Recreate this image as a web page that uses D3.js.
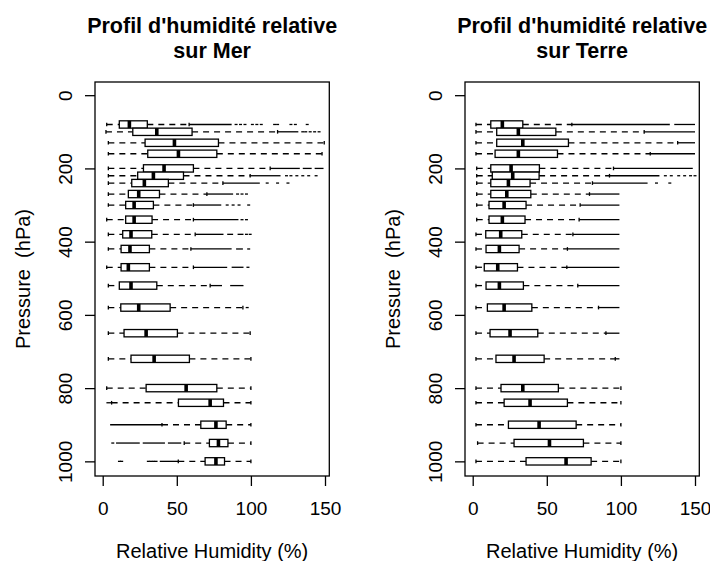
<!DOCTYPE html>
<html><head><meta charset="utf-8">
<script src="https://cdn.jsdelivr.net/npm/d3@7"></script>
<style>
body{margin:0;background:#fff}
svg{font-family:"Liberation Sans",Arial,sans-serif;display:block}
</style>
</head><body>
<svg id="c" width="710" height="561"></svg>
<script>
// Pressure levels (hPa) of the boxes
const pressures = [80, 100, 130, 160, 200, 220, 240, 270, 300, 340, 380, 420, 470, 520, 580, 650, 720, 800, 840, 900, 950, 1000];

// Sea (Mer)
const merLow = [2.7, 2.2, 3.8, 3.8, 3.8, 3.8, 3.8, 3.8, 3.8, 2.7, 3.8, 3.8, 2.7, 3.8, 3.8, 3.8, 3.8, 2.7, 6, 40, 55, 51];
const merQ1  = [11.2, 20.3, 28.6, 30.4, 27.5, 23.6, 19.6, 17.3, 15.5, 15.5, 13.5, 12.4, 12.4, 11.2, 12.2, 14.4, 19.1, 29.3, 51.1, 66.2, 72, 69.1];
const merMed = [18, 36.5, 48.4, 51.1, 41.4, 34.2, 28.1, 24.3, 21.2, 21.2, 19.1, 18.4, 17.3, 19.1, 24.3, 29.3, 34.7, 56.3, 72.5, 76.4, 78.1, 76.4];
const merQ3  = [30.1, 60.3, 78.1, 77, 61.2, 54.5, 44.3, 38.3, 34.2, 33.3, 33.1, 31.5, 31.5, 36.5, 45.5, 50.4, 58.5, 77, 81.5, 83.3, 84.5, 82.2];
const merHigh = [58.3, 118, 149.5, 148, 113, 99.5, 81.1, 70.3, 61.2, 61.2, 62.4, 59.5, 61.2, 72.5, 94.6, 99.5, 100, 100, 100, 100, 100, 100];
const merOutRuns = [
  [[58.3, 87]], [[118, 132]], [], [], [[113, 133], [135, 141], [143, 149]],
  [[99.5, 120]], [[81.1, 106]], [[70.3, 88]], [[61.2, 80]], [[61.2, 91.6]],
  [[62.4, 81.5], [84, 88], [91, 95]], [[59.5, 87], [90, 94.6]], [[61.2, 84], [87, 95]],
  [[72.5, 80.5], [86, 95]], [], [], [], [], [[2.5, 6]], [[5, 40]],
  [[9, 25], [27, 42], [44, 53]], [[38.5, 51]]
];
const merOutPts = [
  [90, 93, 96, 101, 104, 107, 116, 118, 127, 130, 138], [135, 137, 140, 143, 146], [], [], [],
  [124, 127, 131, 135, 139, 144], [111, 118, 125], [91, 94, 97], [84, 88, 92, 98.5], [94, 97],
  [97, 99.5], [98.5], [98], [], [97.5], [], [], [], [], [],
  [6.8], [11.3, 12.8, 30.8, 32.5, 34.3, 36]
];

// Land (Terre)
const terLow = [2.2, 2.2, 2.2, 2.2, 2.7, 2.7, 2.7, 2.7, 2.7, 2.7, 2.2, 2.2, 2.2, 2.2, 2.2, 2.2, 2.2, 2.2, 2.2, 2.2, 3.3, 2.2];
const terQ1  = [12.2, 16.2, 16.2, 15.1, 12.2, 13.2, 12.2, 12.2, 11, 11, 8.8, 9, 7.8, 9, 9.9, 11.7, 15.7, 19.1, 21.2, 24.1, 27.9, 36];
const terMed = [20, 30.8, 33.8, 30.8, 25.9, 27, 24.1, 23, 21.2, 20, 18.9, 18, 16.9, 18, 21.2, 25.2, 27.9, 33.8, 38.7, 44.8, 51.8, 63];
const terQ3  = [33.8, 56.1, 64.6, 57.2, 45, 44.8, 38.7, 39.2, 36, 35.3, 33.1, 31.3, 30.2, 34.2, 39.9, 43.9, 48.2, 57.8, 63.9, 69.8, 74.7, 79.9];
const terHigh = [66.9, 115.7, 138.3, 119.8, 95, 92.3, 80.8, 78.8, 72.5, 71.8, 67.6, 63.9, 63.5, 70.9, 84.9, 89.9, 96.2, 100, 100, 100, 100, 100];
const terOutRuns = [
  [[66.9, 133], [136, 150]], [[115.7, 150]], [[138.3, 150]], [[119.8, 150]], [[95, 148.5]],
  [[92.3, 126]], [[80.8, 118]], [[78.8, 99]], [[72.5, 99]], [[71.8, 99]],
  [[67.6, 99]], [[63.9, 99]], [[63.5, 99]], [[70.9, 99]], [[84.9, 99]],
  [[89.9, 99]], [[96.2, 99]], [], [], [], [], []
];
const terOutPts = [
  [], [], [], [], [], [130, 134, 139, 143, 147, 150], [124, 133], [], [], [],
  [], [], [], [], [], [], [], [], [], [], [], []
];

const xTicks = [0, 50, 100, 150];
const yTicks = [0, 200, 400, 600, 800, 1000];
const titleLine1 = "Profil d'humidité relative";
const titles2 = ["sur Mer", "sur Terre"];
const xLabel = "Relative Humidity (%)";
const yLabel = "Pressure  (hPa)";

const panels = [
  {t2: titles2[0], lo: merLow, q1: merQ1, med: merMed, q3: merQ3, hi: merHigh, runs: merOutRuns, pts: merOutPts, left: 95},
  {t2: titles2[1], lo: terLow, q1: terQ1, med: terMed, q3: terQ3, hi: terHigh, runs: terOutRuns, pts: terOutPts, left: 465}
];

const svg = d3.select("#c");
const plotTop = 82, plotBottom = 476, pw = 234.3;
const boxWex = 20; // hPa

panels.forEach(P => {
  const x = d3.scaleLinear().domain([-5.2, 152.9]).range([P.left, P.left + pw]);
  const y = d3.scaleLinear().domain([-36, 1040]).range([plotTop, plotBottom]);
  const g = svg.append("g");
  const hh = (y(boxWex / 2) - y(0));
  const cx = P.left + pw / 2;

  pressures.forEach((p, i) => {
    const cy = y(p);
    const gg = g.append("g");
    gg.append("line").attr("x1", x(P.lo[i])).attr("x2", x(P.q1[i])).attr("y1", cy).attr("y2", cy)
      .attr("stroke", "#000").attr("stroke-width", 1.3).attr("stroke-dasharray", "6,5");
    gg.append("line").attr("x1", x(P.q3[i])).attr("x2", x(P.hi[i])).attr("y1", cy).attr("y2", cy)
      .attr("stroke", "#000").attr("stroke-width", 1.3).attr("stroke-dasharray", "6,5");
    [P.lo[i], P.hi[i]].forEach(v => {
      gg.append("line").attr("x1", x(v)).attr("x2", x(v)).attr("y1", cy - hh / 2).attr("y2", cy + hh / 2)
        .attr("stroke", "#000").attr("stroke-width", 1.3);
    });
    P.runs[i].forEach(r => {
      gg.append("line").attr("x1", x(r[0])).attr("x2", x(r[1])).attr("y1", cy).attr("y2", cy)
        .attr("stroke", "#000").attr("stroke-width", 1.3);
    });
    P.pts[i].forEach(v => {
      gg.append("line").attr("x1", x(v) - 1.5).attr("x2", x(v) + 1.5).attr("y1", cy).attr("y2", cy)
        .attr("stroke", "#000").attr("stroke-width", 1.3);
    });
    gg.append("rect").attr("x", x(P.q1[i])).attr("y", cy - hh).attr("width", x(P.q3[i]) - x(P.q1[i])).attr("height", 2 * hh)
      .attr("fill", "#fff").attr("stroke", "#000").attr("stroke-width", 1.3);
    gg.append("line").attr("x1", x(P.med[i])).attr("x2", x(P.med[i])).attr("y1", cy - hh).attr("y2", cy + hh)
      .attr("stroke", "#000").attr("stroke-width", 3.6);
  });

  g.append("rect").attr("x", P.left).attr("y", plotTop).attr("width", pw).attr("height", plotBottom - plotTop)
    .attr("fill", "none").attr("stroke", "#000").attr("stroke-width", 1.3);

  const ax = g.append("g").attr("transform", `translate(0,${plotBottom})`)
    .call(d3.axisBottom(x).tickValues(xTicks).tickSize(10).tickFormat(d3.format("d")));
  ax.select(".domain").remove();
  ax.selectAll("line").attr("stroke", "#000").attr("stroke-width", 1.3);
  ax.selectAll("text").attr("y", 39.3).attr("dy", 0).attr("fill", "#000")
    .style("font-size", "19px").style("font-family", '"Liberation Sans",Arial,sans-serif');

  const ay = g.append("g").attr("transform", `translate(${P.left},0)`)
    .call(d3.axisLeft(y).tickValues(yTicks).tickSize(10).tickFormat(d3.format("d")));
  ay.select(".domain").remove();
  ay.selectAll("line").attr("stroke", "#000").attr("stroke-width", 1.3);
  ay.selectAll("text").attr("x", 0).attr("y", -23.5).attr("dy", 0).attr("text-anchor", "middle")
    .attr("transform", "rotate(-90)").attr("fill", "#000")
    .style("font-size", "19px").style("font-family", '"Liberation Sans",Arial,sans-serif');

  g.append("text").attr("x", cx).attr("y", 33.3).attr("text-anchor", "middle")
    .style("font-size", "21.5px").style("font-weight", "bold").text(titleLine1);
  g.append("text").attr("x", cx).attr("y", 58.3).attr("text-anchor", "middle")
    .style("font-size", "21.5px").style("font-weight", "bold").text(P.t2);
  g.append("text").attr("x", cx).attr("y", 558).attr("text-anchor", "middle")
    .style("font-size", "20px").text(xLabel);
  g.append("text").attr("transform", `translate(${P.left - 65.5},${(plotTop + plotBottom) / 2}) rotate(-90)`)
    .attr("text-anchor", "middle").style("font-size", "20px").style("white-space", "pre").text(yLabel);
});
</script>
</body></html>
